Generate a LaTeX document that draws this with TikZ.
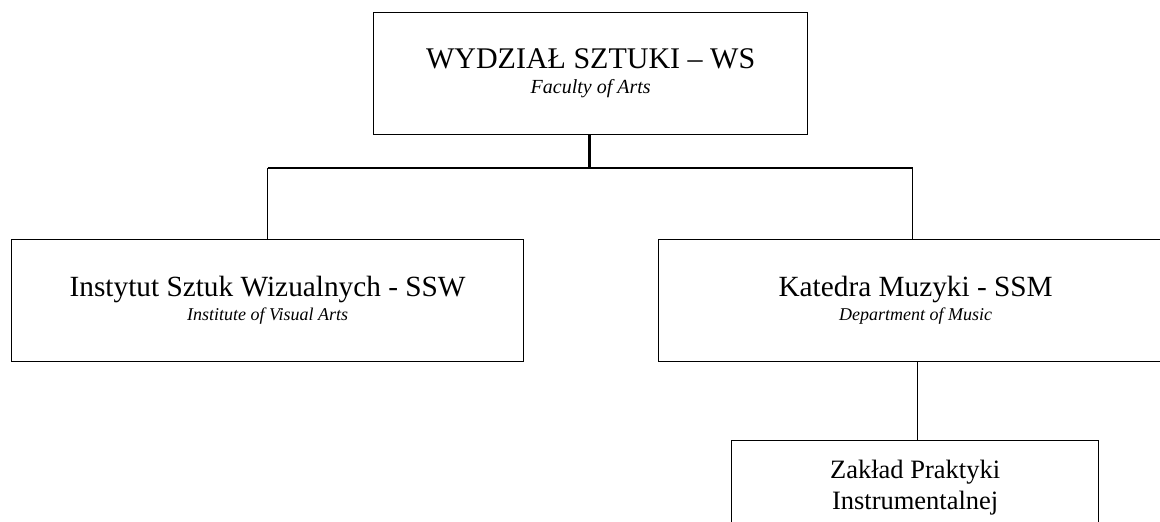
\documentclass[tikz,border=0pt]{standalone}
\usepackage{fontspec}
\setmainfont{Liberation Serif}
\begin{document}
\begin{tikzpicture}[x=1pt,y=-1pt,
  box/.style={draw, line width=1.3pt, inner sep=0pt, align=center, anchor=north west},
  trunk/.style={line width=3.4pt},
  bar/.style={line width=2.2pt},
  branch/.style={line width=1.5pt}]
\useasboundingbox (0,0) rectangle (1160,522);
\clip (0,0) rectangle (1160,522);
\node[box, minimum width=434pt, minimum height=122pt, font=\fontsize{30}{22}\selectfont] (ws) at (373,12)
  {WYDZIAŁ SZTUKI – WS\\[3pt]{\fontsize{20}{20}\selectfont\itshape Faculty of Arts}};
\node[box, minimum width=512pt, minimum height=122pt, font=\fontsize{29.3}{22}\selectfont] (isw) at (11,239)
  {Instytut Sztuk Wizualnych - SSW\\[2pt]{\fontsize{18}{18}\selectfont\itshape Institute of Visual Arts}};
\node[box, minimum width=514pt, minimum height=122pt, font=\fontsize{29.3}{22}\selectfont] (km) at (658,239)
  {Katedra Muzyki - SSM\\[2pt]{\fontsize{18}{18}\selectfont\itshape Department of Music}};
\node[box, minimum width=367pt, minimum height=93pt, font=\fontsize{26.5}{29}\selectfont] (zp) at (731,440)
  {Zakład Praktyki\\[2pt]Instrumentalnej};
\coordinate (hub) at (589,168);
\coordinate (kmtop) at ([xshift=-3pt]km.north);
\coordinate (kmbot) at ([xshift=2pt]km.south);
\draw[trunk] ([xshift=-1pt]ws.south) -- ([xshift=-1pt]ws.south |- hub);
\draw[bar] (isw.north |- hub) -- (kmtop |- hub);
\draw[branch] (isw.north |- hub) -- (isw.north);
\draw[branch] (kmtop |- hub) -- (kmtop);
\draw[branch] (kmbot) -- (kmbot |- zp.north);
\end{tikzpicture}
\end{document}
